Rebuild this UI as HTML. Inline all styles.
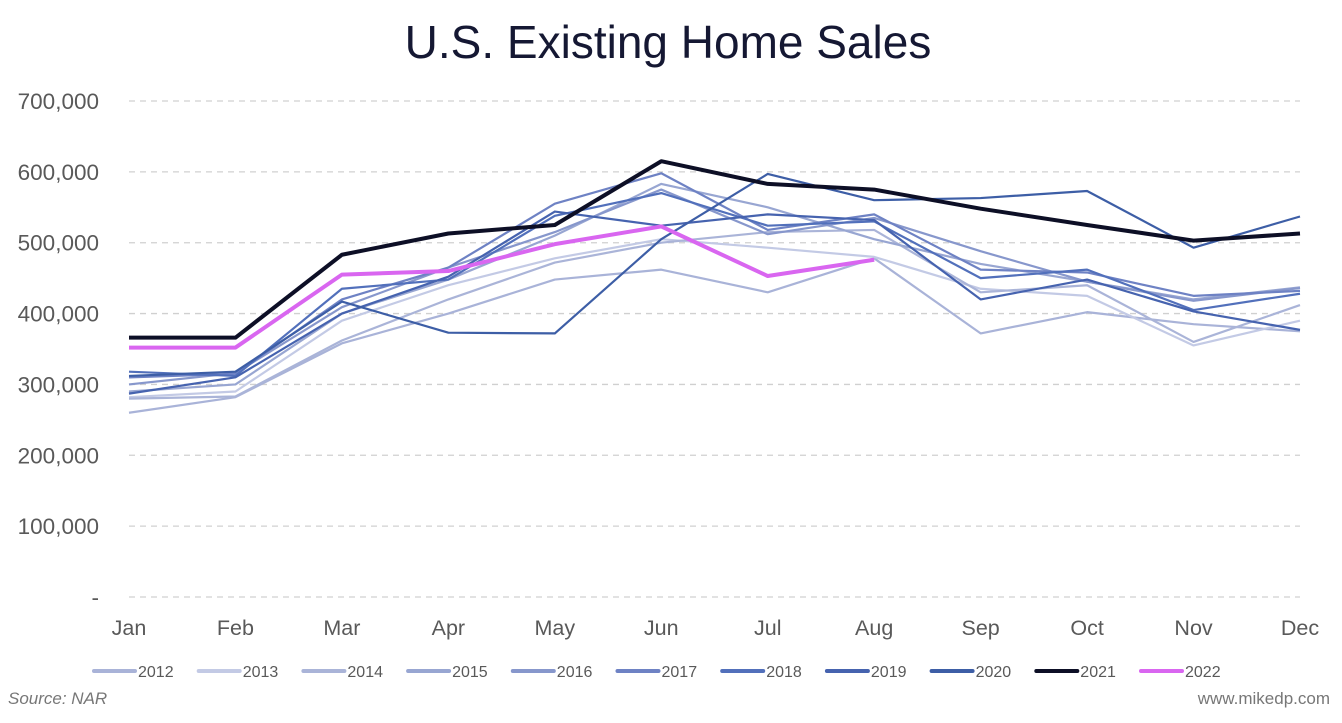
<!DOCTYPE html>
<html><head><meta charset="utf-8"><style>
body{margin:0;background:#fff;font-family:"Liberation Sans",sans-serif}
</style></head><body>
<svg width="1342" height="718" viewBox="0 0 1342 718">
<text x="668" y="58" text-anchor="middle" font-size="46" fill="#151833">U.S. Existing Home Sales</text>
<g id="grid"></g><g id="yl"></g><g id="xl"></g><g id="lines"></g><g id="legend"></g>
<text x="8" y="704" font-size="17" font-style="italic" fill="#777">Source: NAR</text>
<text x="1330" y="704" text-anchor="end" font-size="17" fill="#777">www.mikedp.com</text>
</svg>
<script>
const months=["Jan","Feb","Mar","Apr","May","Jun","Jul","Aug","Sep","Oct","Nov","Dec"];
const yTicks=[0,100000,200000,300000,400000,500000,600000,700000];
const yTickLabels=["-","100,000","200,000","300,000","400,000","500,000","600,000","700,000"];
const years=["2012","2013","2014","2015","2016","2017","2018","2019","2020","2021","2022"];
const s2012=[260,282,358,400,448,462,430,478,372,402,385,375];
const s2013=[282,290,390,440,478,505,493,480,435,425,355,390];
const s2014=[280,283,362,420,472,500,515,518,430,440,360,412];
const s2015=[290,300,400,448,510,583,550,505,470,445,420,437];
const s2016=[300,316,409,465,515,575,512,535,488,445,418,436];
const s2017=[310,315,420,465,555,598,518,540,462,458,425,432];
const s2018=[318,312,435,448,538,570,524,530,450,462,405,428];
const s2019=[287,310,400,452,544,524,540,532,420,448,403,377];
const s2020=[312,318,417,373,372,505,597,560,563,573,493,537];
const s2021=[366,366,483,513,525,615,583,575,548,525,503,513];
const s2022=[352,352,455,460,498,523,453,476];
const series=[s2012,s2013,s2014,s2015,s2016,s2017,s2018,s2019,s2020,s2021,s2022];
const colors=["#a9b3d8","#c3cae5","#aab4d8","#98a6d2","#8797cc","#6e82c4","#5270bb","#4663af","#3d5ea6","#0d0f26","#d966f0"];
const widths=[2.2,2.2,2.2,2.2,2.2,2.2,2.2,2.2,2.2,4,4];
const NS="http://www.w3.org/2000/svg";
const X=i=>129+i*(1300-129)/11;
const Y=v=>597-v*(496/700000);
function mk(t,a,p){const e=document.createElementNS(NS,t);for(const k in a)e.setAttribute(k,a[k]);p.appendChild(e);return e;}
const grid=document.getElementById('grid'),yl=document.getElementById('yl'),xl=document.getElementById('xl'),ln=document.getElementById('lines'),lg=document.getElementById('legend');
yTicks.forEach((v,i)=>{
 const g=mk('line',{x1:129,x2:1300,y1:Y(v),y2:Y(v),stroke:'#d0d0d0','stroke-width':1.3,'stroke-dasharray':'6,5'},grid);
 
 
 const t=mk('text',{x:99,y:Y(v)+8,'text-anchor':'end','font-size':22.5,fill:'#595959'},yl);
 t.textContent=yTickLabels[i];
 
 
});
months.forEach((m,i)=>{
 const t=mk('text',{x:X(i),y:635,'text-anchor':'middle','font-size':21.5,fill:'#595959'},xl);
 t.textContent=m;
 
 
});
series.forEach((s,k)=>{
 const p=mk('polyline',{points:s.map((v,i)=>X(i)+','+Y(v*1000)).join(' '),fill:'none',stroke:colors[k],'stroke-width':widths[k],'stroke-linejoin':'round'},ln);
 
 
 const lx=94+k*104.7;
 const l=mk('line',{x1:lx,x2:lx+41,y1:671,y2:671,stroke:colors[k],'stroke-width':4,'stroke-linecap':'round'},lg);
 
 
 const t=mk('text',{x:lx+44,y:677,'font-size':16,fill:'#595959'},lg);
 t.textContent=years[k];
 
 
});
</script>
</body></html>
